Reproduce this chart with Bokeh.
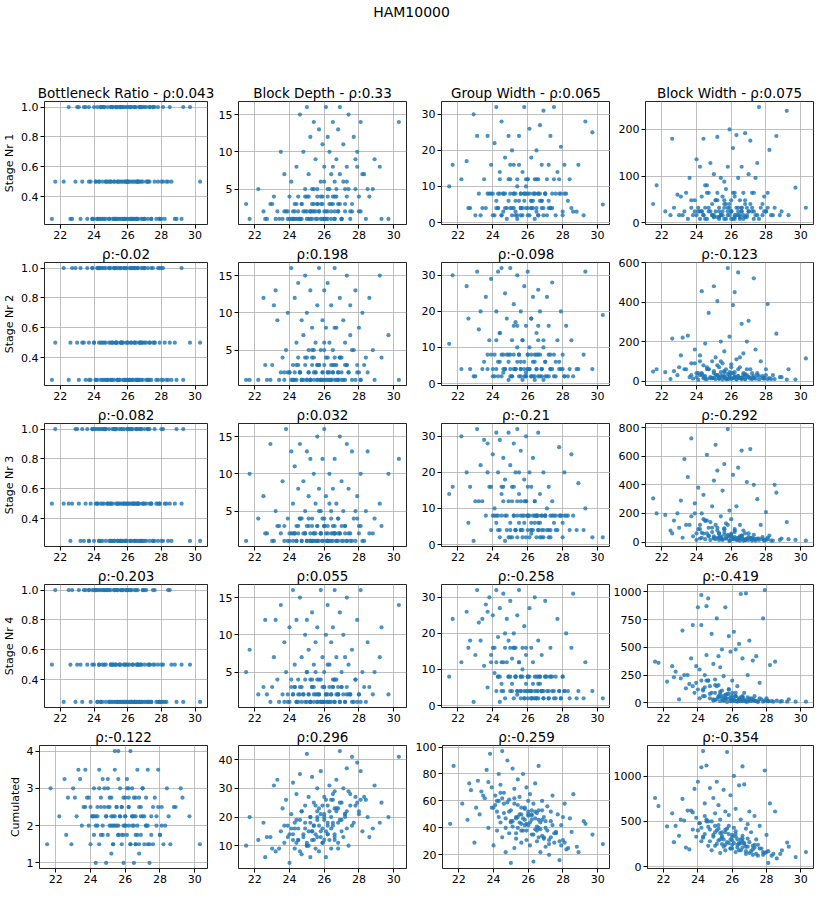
from bokeh.plotting import figure
from bokeh.layouts import row, column
from bokeh.models import Range1d, FixedTicker, PrintfTickFormatter
from bokeh.embed import file_html
from bokeh.resources import INLINE
from bokeh.core.validation import silence
from bokeh.core.validation.warnings import MISSING_RENDERERS

silence(MISSING_RENDERERS, True)

# ---------------- data ----------------
SUPTITLE = "HAM10000"
COL_TITLES = ["Bottleneck Ratio", "Block Depth", "Group Width", "Block Width"]
ROW_LABELS = ["Stage Nr 1", "Stage Nr 2", "Stage Nr 3", "Stage Nr 4", "Cumulated"]
RHO = [
    ["0.043", "0.33", "0.065", "0.075"],
    ["-0.02", "0.198", "-0.098", "-0.123"],
    ["-0.082", "0.032", "-0.21", "-0.292"],
    ["-0.203", "0.055", "-0.258", "-0.419"],
    ["-0.122", "0.296", "-0.259", "-0.354"],
]

x_values = [
    21.5, 21.7, 22.2, 22.5, 22.6, 22.9, 23.1, 23.2, 23.3, 23.5,
    23.6, 23.7, 23.8, 23.9, 24.0, 24.1, 24.2, 24.2, 24.3, 24.4,
    24.4, 24.5, 24.5, 24.6, 24.7, 24.7, 24.8, 24.9, 24.9, 25.0,
    25.0, 25.1, 25.1, 25.2, 25.2, 25.3, 25.3, 25.4, 25.4, 25.5,
    25.5, 25.6, 25.6, 25.7, 25.7, 25.8, 25.8, 25.9, 25.9, 26.0,
    26.0, 26.1, 26.1, 26.2, 26.2, 26.3, 26.3, 26.4, 26.4, 26.5,
    26.5, 26.6, 26.6, 26.7, 26.7, 26.8, 26.9, 26.9, 27.0, 27.1,
    27.1, 27.2, 27.3, 27.3, 27.4, 27.5, 27.6, 27.7, 27.8, 27.9,
    28.0, 28.1, 28.2, 28.4, 28.5, 28.6, 28.9, 29.2, 29.3, 29.7,
    30.3, 24.3, 25.0, 25.6, 26.2, 26.6, 24.6, 25.4, 26.0, 26.8,
    24.0, 24.3, 24.5, 24.7, 24.9, 25.1, 25.2, 25.3, 25.5, 25.6,
    25.7, 25.8, 25.9, 26.0, 26.1, 26.2, 26.3, 26.4, 26.5, 26.6,
    26.7, 26.8, 26.9, 27.0, 27.2, 27.4, 27.6, 27.8, 28.0, 28.3,
    23.4, 23.9, 24.1, 24.4, 24.6, 24.8, 25.0, 25.2, 25.4, 25.6,
    25.8, 26.0, 26.2, 26.4, 26.6, 26.8, 27.0, 27.2, 27.5, 27.9,
    22.7, 23.0, 23.7, 24.2, 25.3, 25.9, 26.5, 27.3, 28.1, 28.8,
]

bottleneck_s1 = [
    0.25, 0.5, 0.5, 1, 0.25, 0.5, 1, 0.25, 0.5, 1,
    0.25, 1, 0.5, 0.25, 1, 0.5, 0.25, 1, 0.5, 0.25,
    1, 0.5, 0.25, 1, 0.25, 0.5, 1, 0.25, 0.5, 1,
    0.5, 0.25, 1, 0.5, 0.25, 1, 0.25, 0.5, 1, 0.25,
    0.5, 1, 0.25, 0.5, 1, 0.25, 0.5, 1, 0.25, 0.5,
    1, 0.25, 0.5, 1, 0.25, 0.5, 0.25, 1, 0.5, 0.25,
    1, 0.5, 0.25, 1, 0.5, 0.25, 1, 0.5, 0.25, 1,
    0.5, 0.25, 1, 0.5, 0.25, 1, 0.5, 0.25, 1, 0.25,
    0.5, 1, 0.25, 0.5, 1, 0.5, 0.25, 0.25, 1, 1,
    0.5, 0.25, 0.5, 1, 0.25, 0.5, 1, 0.25, 0.5, 1,
    0.25, 0.5, 1, 0.5, 0.25, 1, 0.5, 0.25, 1, 0.5,
    0.25, 1, 0.5, 0.25, 1, 0.5, 0.25, 1, 0.5, 0.25,
    1, 0.5, 0.25, 1, 0.5, 0.25, 1, 0.5, 0.25, 0.5,
    1, 0.25, 0.5, 1, 0.25, 0.5, 1, 0.25, 0.5, 1,
    0.25, 0.5, 1, 0.25, 0.5, 1, 0.25, 0.5, 1, 0.25,
    0.25, 1, 0.5, 0.25, 1, 0.5, 0.25, 1, 0.5, 0.25,
]
bottleneck_s2 = [
    0.25, 0.5, 1, 0.25, 0.5, 1, 0.25, 1, 0.5, 0.25,
    1, 0.5, 0.25, 1, 0.5, 0.25, 1, 0.25, 0.5, 1,
    0.25, 0.5, 1, 0.25, 0.5, 1, 0.25, 1, 0.5, 0.25,
    1, 0.5, 0.25, 0.25, 1, 0.5, 1, 0.25, 0.5, 1,
    0.25, 0.5, 1, 0.25, 0.5, 0.25, 1, 0.5, 1, 0.25,
    0.5, 1, 0.25, 0.5, 1, 0.25, 0.25, 0.5, 1, 0.25,
    0.5, 1, 0.25, 0.25, 0.5, 1, 0.25, 0.5, 1, 0.25,
    0.5, 1, 0.25, 0.5, 0.25, 1, 0.5, 0.25, 1, 0.5,
    0.25, 1, 0.5, 0.25, 0.5, 0.25, 0.25, 1, 0.25, 0.5,
    0.5, 1, 0.25, 0.5, 1, 0.25, 0.5, 1, 0.25, 0.5,
    0.5, 1, 0.25, 0.25, 1, 0.5, 1, 0.5, 0.25, 1,
    0.5, 0.25, 1, 0.5, 0.25, 0.25, 1, 0.5, 0.25, 1,
    0.5, 0.25, 1, 0.5, 0.25, 1, 0.5, 0.25, 1, 0.25,
    0.5, 1, 0.25, 0.5, 1, 0.25, 0.5, 1, 0.25, 0.5,
    1, 0.25, 0.5, 1, 0.25, 0.5, 1, 0.25, 0.5, 1,
    1, 0.5, 0.25, 1, 0.5, 0.25, 1, 0.5, 0.25, 0.5,
]
bottleneck_s3 = [
    0.5, 1, 0.5, 0.5, 0.25, 1, 0.5, 0.25, 1, 0.5,
    1, 0.25, 0.5, 1, 0.25, 1, 0.5, 1, 0.25, 0.5,
    1, 0.25, 1, 0.5, 0.25, 1, 0.5, 0.25, 1, 0.5,
    0.25, 1, 0.5, 1, 0.25, 0.5, 1, 0.25, 0.5, 1,
    0.25, 0.5, 1, 0.25, 0.5, 1, 0.25, 0.5, 0.25, 1,
    0.5, 0.25, 1, 0.5, 0.25, 0.5, 1, 0.25, 0.5, 0.25,
    1, 0.5, 0.25, 0.5, 1, 0.25, 0.5, 0.25, 1, 0.5,
    0.25, 1, 0.5, 0.25, 0.5, 0.25, 1, 0.5, 0.25, 0.5,
    0.25, 1, 0.5, 0.25, 0.5, 0.25, 1, 0.5, 1, 0.25,
    0.25, 1, 0.5, 0.25, 1, 0.5, 1, 0.25, 0.5, 1,
    1, 0.25, 0.5, 1, 0.5, 0.25, 0.25, 1, 0.5, 0.25,
    1, 0.5, 0.25, 1, 0.5, 1, 0.5, 0.25, 1, 0.5,
    0.25, 1, 0.5, 0.25, 1, 0.5, 0.25, 0.5, 1, 0.5,
    0.25, 1, 0.5, 0.25, 1, 0.5, 0.25, 1, 0.5, 0.25,
    0.5, 1, 0.25, 0.5, 1, 0.25, 0.5, 1, 0.25, 0.5,
    0.5, 1, 0.25, 0.5, 1, 0.25, 0.5, 1, 0.25, 0.5,
]
bottleneck_s4 = [
    0.5, 1, 0.25, 1, 0.5, 0.25, 1, 0.5, 0.25, 1,
    0.5, 1, 0.25, 1, 0.5, 1, 0.25, 1, 0.5, 1,
    0.25, 1, 0.5, 1, 0.25, 0.5, 1, 0.25, 1, 0.5,
    1, 0.25, 0.5, 1, 0.25, 1, 0.5, 0.25, 1, 0.5,
    0.25, 1, 0.5, 0.25, 1, 0.5, 0.25, 1, 0.25, 0.5,
    1, 0.25, 0.5, 0.25, 1, 0.25, 0.5, 0.25, 1, 0.25,
    0.5, 0.25, 1, 0.25, 0.5, 0.25, 1, 0.25, 0.5, 0.25,
    1, 0.25, 0.5, 0.25, 0.25, 1, 0.5, 0.25, 0.5, 0.25,
    0.25, 0.5, 0.25, 1, 1, 0.5, 0.25, 0.5, 0.25, 0.5,
    0.25, 1, 0.5, 1, 0.25, 0.5, 1, 0.25, 1, 0.5,
    1, 0.5, 0.25, 1, 0.25, 0.5, 1, 0.25, 0.5, 0.25,
    1, 0.25, 0.5, 0.25, 1, 0.25, 0.5, 0.25, 1, 0.5,
    0.25, 0.5, 1, 0.25, 0.5, 0.25, 1, 0.25, 0.5, 0.25,
    1, 0.5, 1, 0.25, 0.5, 1, 0.25, 0.5, 1, 0.25,
    0.5, 0.25, 1, 0.25, 0.5, 0.25, 1, 0.25, 0.5, 0.25,
    1, 0.5, 1, 0.25, 0.5, 1, 0.25, 0.5, 0.25, 0.5,
]
bottleneck_cum = [
    1.5, 3, 2.25, 3.25, 1.75, 1.5, 2.75, 2.25, 3.5, 2,
    2.5, 3.5, 2.75, 2, 1.5, 2.25, 3, 1.75, 1, 2.5,
    2.25, 3.5, 1.5, 2.75, 2, 3.25, 2.5, 1, 2.25, 1.75,
    3, 2.5, 2, 1.25, 2.75, 2.25, 1.5, 3.5, 4, 2,
    2.5, 1.75, 4, 2.25, 3, 1.5, 2.5, 1, 2, 2.75,
    2.25, 3.25, 1.75, 2.5, 2, 4, 1.5, 2.25, 3, 1,
    2.75, 1.5, 2.25, 3.5, 2, 1.25, 2.5, 1.75, 3, 2.25,
    1.5, 2.75, 2, 3.5, 1, 2.25, 1.5, 2.75, 2, 3.5,
    1.75, 2.5, 1.5, 3, 2.25, 1.5, 2.5, 3, 2.75, 2.25,
    1.5, 2.25, 3.25, 2, 2.75, 1.75, 2.5, 2.25, 2, 1.5,
    2.5, 2, 3, 1.75, 2.25, 2.75, 2, 1.5, 2.5, 3.25,
    2.25, 1.75, 2.75, 2, 3, 2.5, 1.5, 2.25, 2, 2.75,
    1.75, 2.5, 2.25, 3, 2, 1.5, 2.5, 2.25, 1.75, 2,
    3.25, 2.75, 2.25, 2, 1.75, 3, 2.5, 2.25, 2, 1.75,
    2.5, 2.25, 3, 2, 1.5, 2.75, 2.25, 2, 1.75, 2.5,
    2.75, 3, 2.5, 2.25, 2, 1.75, 2.25, 1.5, 2, 2.5,
]

depth_s1 = [
    3, 1, 5, 2, 1, 3, 4, 1, 2, 10,
    1, 7, 2, 1, 4, 6, 2, 1, 3, 8,
    1, 2, 4, 15, 1, 3, 10, 2, 5, 16,
    1, 4, 7, 2, 12, 1, 3, 14, 5, 2,
    9, 1, 4, 13, 2, 6, 1, 11, 3, 8,
    2, 16, 1, 5, 12, 3, 10, 1, 7, 4,
    14, 2, 1, 9, 5, 13, 3, 16, 1, 6,
    11, 2, 8, 4, 15, 1, 3, 12, 5, 10,
    2, 14, 7, 1, 5, 4, 9, 8, 1, 1,
    14, 1, 2, 3, 2, 4, 1, 3, 1, 2,
    1, 2, 1, 3, 4, 1, 2, 5, 1, 3,
    2, 4, 1, 6, 2, 1, 5, 3, 8, 1,
    4, 2, 7, 1, 3, 5, 2, 9, 4, 7,
    1, 2, 1, 3, 1, 2, 4, 1, 2, 5,
    3, 1, 4, 2, 6, 3, 1, 5, 2, 8,
    1, 3, 2, 1, 2, 4, 3, 6, 2, 5,
]
depth_s2 = [
    1, 1, 1, 12, 3, 1, 11, 13, 9, 2,
    4, 1, 5, 10, 2, 16, 3, 1, 12, 6,
    1, 4, 14, 2, 9, 1, 7, 3, 15, 1,
    10, 2, 5, 1, 13, 3, 8, 1, 4, 6,
    2, 11, 1, 3, 16, 5, 1, 9, 2, 13,
    1, 4, 8, 2, 14, 1, 6, 3, 11, 2,
    5, 1, 16, 3, 8, 1, 12, 4, 2, 9,
    1, 6, 15, 3, 2, 11, 1, 5, 13, 3,
    8, 1, 10, 4, 2, 12, 1, 15, 4, 7,
    1, 2, 1, 3, 1, 4, 2, 5, 3, 1,
    2, 1, 3, 1, 4, 2, 1, 5, 2, 1,
    3, 1, 2, 6, 1, 4, 2, 1, 3, 8,
    1, 2, 4, 1, 3, 2, 5, 1, 2, 3,
    1, 2, 1, 3, 2, 1, 4, 1, 2, 3,
    1, 5, 2, 1, 3, 2, 4, 1, 7, 2,
    1, 3, 2, 1, 4, 1, 2, 3, 1, 5,
]
depth_s3 = [
    1, 10, 4, 7, 2, 14, 1, 5, 3, 2,
    9, 1, 16, 4, 2, 13, 1, 6, 11, 3,
    1, 8, 2, 14, 4, 1, 9, 2, 5, 13,
    1, 3, 7, 2, 12, 1, 4, 10, 2, 6,
    1, 15, 3, 8, 1, 5, 2, 12, 1, 4,
    16, 2, 7, 1, 3, 10, 1, 5, 2, 8,
    1, 12, 3, 6, 1, 4, 15, 2, 9, 1,
    5, 3, 14, 1, 8, 2, 13, 4, 1, 7,
    3, 10, 1, 5, 13, 2, 4, 6, 3, 10,
    12, 2, 1, 3, 1, 2, 4, 1, 3, 2,
    1, 2, 3, 1, 2, 4, 1, 3, 2, 1,
    5, 2, 1, 3, 1, 2, 6, 1, 3, 2,
    1, 4, 2, 1, 3, 2, 1, 5, 2, 1,
    3, 1, 2, 1, 4, 2, 3, 1, 2, 1,
    2, 3, 1, 4, 2, 1, 3, 2, 1, 4,
    2, 1, 3, 2, 1, 4, 2, 1, 3, 2,
]
depth_s4 = [
    5, 8, 2, 3, 12, 1, 7, 12, 4, 14,
    2, 9, 5, 1, 11, 3, 16, 2, 6, 1,
    12, 4, 1, 15, 3, 7, 2, 10, 1, 5,
    12, 2, 8, 1, 4, 13, 3, 1, 6, 2,
    9, 1, 11, 4, 2, 16, 1, 7, 3, 5,
    1, 10, 2, 14, 6, 1, 3, 9, 2, 11,
    4, 1, 16, 2, 7, 3, 13, 1, 5, 2,
    10, 1, 15, 3, 6, 2, 8, 1, 4, 12,
    2, 16, 5, 1, 9, 3, 5, 7, 11, 2,
    14, 3, 1, 2, 1, 4, 2, 3, 1, 2,
    1, 3, 2, 1, 4, 2, 1, 3, 5, 1,
    2, 4, 1, 3, 2, 1, 6, 2, 3, 1,
    4, 2, 1, 3, 7, 2, 1, 4, 2, 3,
    1, 2, 4, 1, 3, 2, 5, 1, 2, 4,
    1, 3, 2, 1, 4, 2, 3, 1, 2, 1,
    2, 3, 1, 2, 4, 1, 3, 2, 1, 2,
]
depth_cum = [
    10, 20, 12, 18, 6, 13, 31, 8, 33, 15,
    23, 11, 26, 17, 4, 21, 14, 32, 9, 19,
    28, 12, 16, 35, 7, 22, 13, 18, 24, 42,
    10, 15, 27, 6, 20, 34, 12, 17, 25, 9,
    14, 30, 19, 8, 23, 13, 36, 16, 11, 21,
    27, 15, 6, 24, 18, 31, 12, 20, 9, 26,
    17, 29, 14, 22, 33, 11, 43, 19, 25, 13,
    30, 21, 16, 37, 10, 24, 41, 18, 27, 39,
    22, 36, 15, 26, 20, 13, 31, 18, 25, 20,
    41, 16, 11, 20, 14, 23, 8, 17, 12, 9,
    14, 18, 12, 22, 16, 10, 20, 15, 24, 13,
    17, 21, 11, 19, 26, 14, 22, 16, 28, 12,
    23, 18, 25, 15, 20, 29, 17, 24, 21, 27,
    9, 13, 16, 11, 19, 14, 10, 18, 12, 22,
    15, 20, 17, 26, 13, 23, 19, 21, 28, 25,
    13, 9, 17, 12, 15, 24, 18, 22, 26, 16,
]

group_s1 = [
    10, 16, 12, 17, 4, 30, 24, 8, 2, 12,
    4, 24, 8, 16, 2, 22, 6, 32, 4, 8,
    14, 2, 28, 8, 4, 18, 1, 24, 6, 12,
    8, 2, 20, 4, 16, 8, 3, 12, 1, 6,
    24, 4, 8, 14, 2, 32, 6, 10, 4, 8,
    12, 2, 26, 6, 18, 4, 8, 1, 12, 4,
    20, 8, 2, 27, 6, 16, 4, 31, 8, 2,
    12, 6, 24, 4, 8, 32, 2, 14, 8, 21,
    3, 16, 8, 12, 4, 3, 16, 2, 28, 25,
    5, 8, 4, 2, 6, 8, 3, 10, 4, 6,
    8, 4, 2, 8, 12, 4, 8, 2, 16, 8,
    4, 8, 12, 2, 8, 4, 6, 8, 3, 12,
    8, 4, 2, 8, 16, 4, 8, 12, 2, 6,
    4, 8, 2, 12, 8, 4, 16, 8, 2, 4,
    8, 12, 4, 8, 2, 6, 8, 4, 12, 8,
    4, 2, 8, 4, 6, 8, 12, 4, 8, 3,
]
group_s2 = [
    11, 30, 4, 27, 18, 2, 31, 15, 20, 6,
    24, 4, 12, 29, 2, 8, 20, 4, 31, 6,
    14, 2, 32, 8, 25, 4, 18, 1, 8, 32,
    4, 12, 2, 22, 8, 4, 17, 6, 30, 2,
    8, 20, 4, 12, 1, 27, 6, 16, 3, 8,
    31, 4, 10, 2, 18, 6, 24, 1, 8, 14,
    4, 26, 2, 8, 20, 4, 12, 1, 6, 24,
    2, 16, 8, 4, 28, 2, 6, 12, 4, 20,
    8, 2, 16, 4, 12, 2, 4, 8, 31, 4,
    19, 6, 8, 4, 2, 16, 3, 10, 4, 2,
    4, 2, 8, 4, 6, 2, 16, 4, 8, 2,
    12, 4, 2, 8, 4, 18, 2, 6, 4, 8,
    2, 4, 10, 2, 8, 4, 2, 6, 4, 2,
    4, 8, 2, 14, 4, 8, 2, 4, 16, 6,
    2, 4, 8, 2, 12, 4, 6, 2, 8, 4,
    4, 2, 8, 12, 4, 2, 8, 4, 2, 4,
]
group_s3 = [
    14, 16, 30, 20, 6, 1, 32, 12, 22, 29,
    8, 28, 16, 4, 25, 10, 31, 6, 20, 2,
    29, 14, 8, 24, 1, 18, 4, 31, 12, 6,
    22, 2, 16, 28, 8, 4, 20, 12, 32, 6,
    14, 4, 26, 8, 2, 18, 6, 30, 12, 4,
    8, 20, 2, 16, 6, 24, 4, 8, 12, 2,
    8, 31, 4, 14, 6, 8, 20, 2, 8, 10,
    4, 16, 8, 2, 12, 6, 8, 4, 27, 8,
    2, 20, 8, 4, 25, 8, 17, 4, 10, 2,
    2, 8, 4, 12, 3, 6, 16, 2, 8, 4,
    8, 4, 16, 8, 2, 12, 8, 4, 20, 8,
    4, 8, 2, 16, 8, 4, 8, 12, 8, 4,
    2, 8, 4, 8, 2, 8, 4, 8, 6, 8,
    12, 16, 8, 4, 12, 8, 2, 16, 8, 4,
    12, 8, 4, 6, 8, 2, 8, 4, 8, 8,
    16, 12, 20, 8, 4, 12, 8, 4, 8, 4,
]
group_s4 = [
    8, 24, 12, 26, 16, 1, 32, 23, 18, 11,
    28, 5, 30, 14, 25, 9, 32, 4, 19, 1,
    27, 12, 6, 31, 16, 2, 24, 8, 18, 4,
    29, 13, 6, 20, 2, 16, 8, 25, 4, 12,
    32, 8, 2, 16, 10, 4, 22, 6, 14, 2,
    8, 27, 4, 16, 2, 12, 6, 30, 4, 8,
    2, 18, 4, 8, 6, 14, 2, 4, 29, 8,
    4, 2, 16, 8, 4, 2, 8, 24, 4, 2,
    8, 4, 20, 2, 16, 31, 4, 2, 12, 4,
    2, 8, 16, 4, 2, 6, 12, 3, 8, 4,
    16, 8, 4, 20, 8, 4, 16, 8, 12, 4,
    8, 2, 16, 4, 8, 4, 2, 8, 4, 2,
    8, 4, 2, 8, 4, 8, 2, 4, 8, 4,
    24, 12, 16, 8, 4, 12, 8, 16, 4, 8,
    2, 8, 4, 2, 8, 4, 8, 2, 4, 2,
    18, 14, 26, 12, 8, 4, 2, 8, 4, 2,
]
group_cum = [
    43, 86, 58, 46, 73, 29, 75, 50, 67, 62,
    83, 40, 95, 55, 27, 64, 38, 52, 80, 44,
    72, 33, 97, 58, 22, 47, 90, 36, 61, 14,
    53, 84, 41, 25, 69, 48, 32, 76, 57, 44,
    63, 29, 50, 80, 38, 55, 46, 70, 31, 49,
    42, 65, 27, 53, 35, 58, 15, 47, 73, 30,
    51, 40, 86, 22, 44, 60, 33, 48, 26, 56,
    38, 20, 52, 45, 64, 29, 36, 50, 16, 42,
    31, 58, 24, 47, 37, 65, 22, 45, 43, 35,
    28, 60, 45, 38, 50, 33, 66, 40, 52, 46,
    55, 48, 62, 40, 52, 45, 58, 36, 50, 43,
    47, 54, 38, 60, 44, 49, 35, 52, 41, 46,
    39, 53, 32, 45, 28, 42, 37, 30, 48, 25,
    64, 70, 57, 66, 51, 59, 44, 62, 48, 55,
    42, 50, 46, 39, 53, 34, 40, 31, 36, 27,
    68, 55, 74, 60, 47, 43, 38, 33, 29, 26,
]

width_s1 = [
    40, 80, 24, 16, 180, 60, 56, 16, 24, 8,
    96, 32, 16, 48, 136, 24, 8, 120, 56, 16,
    180, 32, 80, 8, 24, 64, 128, 16, 40, 104,
    12, 48, 24, 184, 64, 8, 32, 96, 16, 56,
    24, 88, 8, 40, 72, 16, 120, 32, 200, 24,
    48, 8, 160, 64, 16, 32, 188, 96, 24, 12,
    48, 120, 24, 8, 64, 192, 32, 16, 104, 40,
    176, 24, 64, 8, 96, 128, 248, 32, 16, 56,
    24, 64, 156, 16, 32, 186, 24, 240, 16, 75,
    32, 24, 16, 48, 8, 32, 64, 16, 24, 40,
    16, 24, 8, 32, 16, 48, 12, 24, 16, 40,
    8, 32, 16, 24, 64, 12, 16, 32, 8, 24,
    16, 48, 12, 24, 32, 16, 8, 40, 24, 16,
    64, 24, 32, 16, 80, 24, 12, 48, 16, 32,
    24, 8, 56, 16, 32, 12, 24, 64, 16, 24,
    32, 16, 48, 24, 12, 40, 16, 24, 32, 16,
]
width_s2 = [
    48, 60, 45, 10, 215, 30, 130, 220, 60, 230,
    20, 90, 12, 160, 40, 6, 130, 30, 455, 15,
    80, 25, 190, 10, 60, 345, 20, 100, 15, 40,
    480, 10, 120, 405, 30, 70, 12, 200, 45, 8,
    90, 25, 150, 15, 60, 572, 10, 225, 30, 85,
    12, 385, 40, 20, 450, 8, 110, 25, 550, 15,
    70, 290, 18, 140, 40, 10, 200, 30, 305, 12,
    60, 20, 520, 15, 160, 40, 8, 100, 25, 12,
    60, 390, 15, 30, 10, 240, 20, 8, 60, 8,
    115, 35, 15, 45, 20, 10, 60, 25, 12, 30,
    20, 40, 10, 60, 15, 30, 80, 12, 25, 50,
    10, 35, 20, 70, 15, 45, 10, 25, 120, 15,
    30, 10, 60, 20, 40, 12, 25, 15, 30, 10,
    60, 90, 40, 25, 70, 15, 50, 30, 100, 20,
    10, 40, 25, 60, 15, 35, 20, 10, 30, 15,
    50, 70, 30, 100, 20, 45, 15, 25, 10, 20,
]
width_s3 = [
    305, 200, 190, 80, 60, 200, 290, 30, 580, 455,
    120, 725, 40, 270, 15, 380, 90, 25, 200, 60,
    330, 20, 150, 610, 45, 100, 15, 250, 70, 430,
    25, 680, 120, 30, 500, 60, 15, 180, 40, 360,
    20, 90, 545, 25, 130, 790, 40, 8, 220, 60,
    160, 20, 470, 35, 90, 15, 250, 520, 30, 10,
    120, 45, 640, 20, 80, 15, 420, 25, 60, 650,
    30, 10, 400, 50, 20, 300, 15, 120, 35, 10,
    210, 20, 45, 10, 400, 345, 25, 140, 20, 15,
    10, 65, 30, 95, 20, 40, 150, 25, 50, 15,
    60, 30, 150, 40, 100, 20, 80, 35, 15, 50,
    25, 120, 10, 45, 30, 70, 20, 15, 40, 25,
    10, 60, 20, 15, 30, 10, 25, 20, 15, 10,
    120, 200, 90, 160, 60, 140, 40, 100, 30, 70,
    50, 20, 80, 30, 45, 15, 35, 20, 25, 15,
    150, 100, 180, 120, 60, 40, 25, 20, 30, 15,
]
width_s4 = [
    370, 360, 190, 330, 230, 30, 650, 250, 130, 170,
    400, 700, 90, 330, 860, 40, 700, 970, 120, 250,
    60, 870, 430, 940, 150, 40, 620, 350, 20, 210,
    90, 760, 30, 420, 160, 15, 320, 60, 480, 20,
    240, 40, 860, 80, 8, 600, 120, 30, 460, 15,
    200, 640, 20, 60, 480, 10, 150, 530, 30, 980,
    50, 15, 400, 90, 20, 985, 250, 10, 560, 40,
    15, 380, 60, 20, 420, 10, 180, 30, 760, 1015,
    40, 15, 340, 10, 370, 20, 15, 10, 30, 10,
    10, 110, 25, 70, 15, 50, 200, 40, 90, 20,
    120, 60, 200, 80, 30, 150, 50, 100, 20, 70,
    40, 120, 15, 60, 30, 90, 20, 40, 15, 60,
    25, 10, 50, 20, 30, 15, 40, 10, 20, 15,
    250, 180, 300, 140, 200, 90, 160, 60, 110, 40,
    80, 30, 60, 20, 45, 15, 35, 25, 10, 20,
    280, 220, 150, 200, 80, 50, 30, 20, 15, 10,
]
width_cum = [
    760, 670, 445, 590, 270, 340, 750, 510, 210, 190,
    620, 410, 860, 330, 940, 480, 1100, 280, 1280, 700,
    360, 1120, 520, 230, 870, 410, 180, 760, 330, 590,
    230, 940, 400, 290, 680, 150, 520, 380, 250, 850,
    300, 610, 180, 1270, 420, 260, 570, 200, 790, 350,
    240, 1005, 430, 160, 640, 300, 210, 900, 260, 520,
    180, 1110, 340, 910, 250, 140, 470, 220, 610, 170,
    380, 130, 560, 240, 300, 120, 450, 200, 160, 1065,
    350, 40, 700, 140, 610, 90, 180, 265, 220, 105,
    160, 330, 450, 240, 360, 280, 500, 320, 200, 420,
    400, 320, 500, 280, 350, 250, 420, 300, 220, 380,
    270, 450, 200, 330, 260, 390, 240, 180, 300, 210,
    260, 170, 310, 150, 230, 140, 200, 130, 160, 120,
    620, 540, 480, 560, 440, 500, 380, 460, 340, 410,
    360, 290, 330, 250, 310, 220, 270, 190, 240, 150,
    450, 520, 600, 430, 370, 300, 260, 210, 170, 140,
]

X_TICKS = [22, 24, 26, 28, 30]
Y_TICKS = [
    [[0.4, 0.6, 0.8, 1.0], [5, 10, 15], [0, 10, 20, 30], [0, 100, 200]],
    [[0.4, 0.6, 0.8, 1.0], [5, 10, 15], [0, 10, 20, 30], [0, 200, 400, 600]],
    [[0.4, 0.6, 0.8, 1.0], [5, 10, 15], [0, 10, 20, 30], [0, 200, 400, 600, 800]],
    [[0.4, 0.6, 0.8, 1.0], [5, 10, 15], [0, 10, 20, 30], [0, 250, 500, 750, 1000]],
    [[1, 2, 3, 4], [10, 20, 30, 40], [20, 40, 60, 80, 100], [0, 500, 1000]],
]

Y = [
    [bottleneck_s1, depth_s1, group_s1, width_s1],
    [bottleneck_s2, depth_s2, group_s2, width_s2],
    [bottleneck_s3, depth_s3, group_s3, width_s3],
    [bottleneck_s4, depth_s4, group_s4, width_s4],
    [bottleneck_cum, depth_cum, group_cum, width_cum],
]

for _r in Y:
    for _s in _r:
        if len(_s) != len(x_values):
            raise ValueError("length mismatch %d vs %d" % (len(_s), len(x_values)))

# ---------------- style / layout ----------------
BLUE = "#1f77b4"
FONT = "DejaVu Sans"
TOTAL_W = 814
COL_W = [215, 197, 198, 204]
COL_BL = [39, 22, 29, 35]
COL_BR = [8, 6, 0, 1]
ROW_H = 161
BT = 15
BB = 19
HEAD_H = 82


def padded(vals):
    lo, hi = min(vals), max(vals)
    pad = 0.05 * (hi - lo)
    return Range1d(lo - pad, hi + pad)


def style_axis(ax):
    ax.axis_line_color = None
    ax.major_tick_out = 4
    ax.major_tick_in = 0
    ax.major_tick_line_color = "black"
    ax.major_tick_line_width = 1
    ax.minor_tick_line_color = None
    ax.major_label_text_font = FONT
    ax.major_label_text_font_size = "11px"
    ax.major_label_text_color = "black"
    ax.major_label_standoff = 2


def make_panel(r, c):
    ys = Y[r][c]
    p = figure(width=COL_W[c], height=ROW_H, output_backend="svg",
               toolbar_location=None,
               x_range=padded(x_values), y_range=padded(ys),
               min_border_left=COL_BL[c], min_border_right=COL_BR[c],
               min_border_top=BT, min_border_bottom=BB)
    p.scatter(x_values, ys, size=4.2, fill_color=BLUE, fill_alpha=0.8,
              line_color=None)
    title = "ρ:" + RHO[r][c]
    if r == 0:
        title = COL_TITLES[c] + " - " + title
    p.title.text = title
    p.title.align = "center"
    p.title.text_font = FONT
    p.title.text_font_size = "13.5px"
    p.title.text_font_style = "normal"
    p.title.text_color = "black"
    p.title.standoff = 1

    xt = FixedTicker(ticks=X_TICKS)
    yt = FixedTicker(ticks=Y_TICKS[r][c])
    p.xaxis.ticker = xt
    p.xgrid.ticker = xt
    p.yaxis.ticker = yt
    p.ygrid.ticker = yt
    style_axis(p.xaxis[0])
    style_axis(p.yaxis[0])
    if c == 0 and r < 4:
        p.yaxis.formatter = PrintfTickFormatter(format="%.1f")
    if c == 0:
        p.yaxis.axis_label = ROW_LABELS[r]
        p.yaxis.axis_label_text_font = FONT
        p.yaxis.axis_label_text_font_size = "11px"
        p.yaxis.axis_label_text_font_style = "normal"
        p.yaxis.axis_label_text_color = "black"
        p.yaxis.axis_label_standoff = 2

    p.grid.grid_line_color = "#b0b0b0"
    p.grid.grid_line_width = 0.8
    p.outline_line_color = "black"
    p.outline_line_width = 1
    p.outline_line_alpha = 0.85
    p.background_fill_color = "white"
    p.border_fill_color = "white"
    return p


header = figure(width=TOTAL_W, height=HEAD_H, output_backend="svg",
                toolbar_location=None, min_border_left=8, min_border_right=0,
                min_border_top=0, min_border_bottom=0)
header.title.text = SUPTITLE
header.title.align = "center"
header.title.text_font = FONT
header.title.text_font_size = "14px"
header.title.text_font_style = "normal"
header.title.text_color = "black"
header.title.standoff = 2
header.xaxis.visible = False
header.yaxis.visible = False
header.grid.visible = False
header.outline_line_color = None

rows = [header]
for r in range(5):
    rows.append(row(*[make_panel(r, c) for c in range(4)]))

layout = column(*rows)

open("out.html", "w").write(file_html(layout, INLINE, title="HAM10000"))
